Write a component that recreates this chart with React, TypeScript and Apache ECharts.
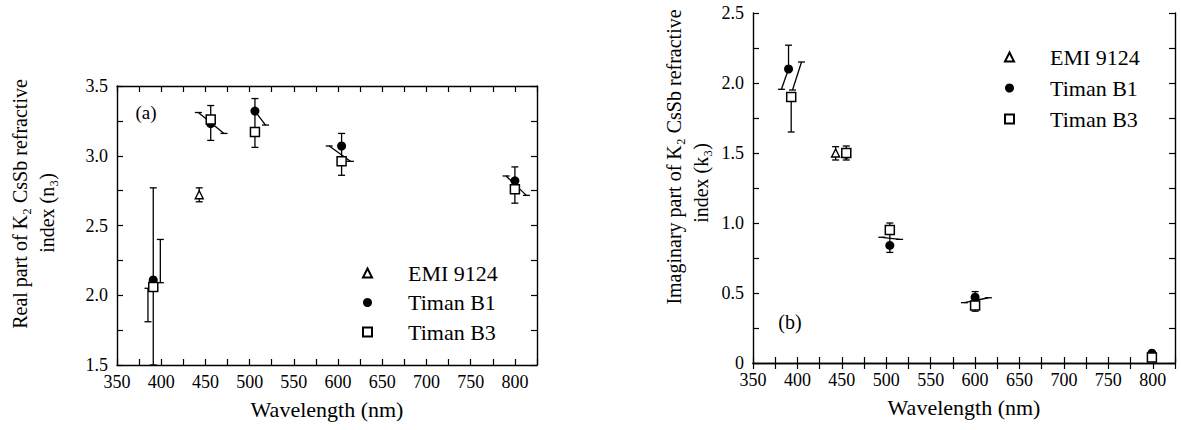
import React, { useEffect, useRef } from "react";
import * as echarts from "echarts";

const seriesNames = ["EMI 9124", "Timan B1", "Timan B3"];

// (a) real part n3
const realEmi = [[443, 2.72]];
const realB1 = [[391, 2.11], [456, 3.23], [506, 3.32], [604, 3.07], [800, 2.82]];
const realB3 = [[391, 2.06], [456, 3.26], [506, 3.17], [604, 2.96], [800, 2.76]];
// error segments [x1, y1, x2, y2]
const realErrSegments = [
  [443, 2.67, 443, 2.77],
  [391, 1.5, 391, 2.77],
  [399, 2.09, 399, 2.4],
  [385, 1.81, 385, 2.05],
  [456, 3.11, 456, 3.36],
  [506, 3.06, 506, 3.41],
  [604, 2.86, 604, 3.16],
  [800, 2.66, 800, 2.92],
  [442, 3.31, 471, 3.16],
  [506, 3.32, 518, 3.22],
  [590, 3.07, 614, 2.96],
  [790, 2.855, 813, 2.716],
];

// (b) imaginary part k3
const imagEmi = [[443, 1.5]];
const imagB1 = [[390, 2.1], [455, 1.49], [504, 0.84], [600, 0.47], [799, 0.07]];
const imagB3 = [[393, 1.9], [455, 1.5], [504, 0.95], [600, 0.41], [799, 0.04]];
const imagErrSegments = [
  [390, 2.1, 390, 2.27],
  [393, 1.65, 393, 1.9],
  [390, 2.1, 382, 1.955],
  [394.5, 1.95, 404.6, 2.15],
  [443, 1.45, 443, 1.545],
  [455, 1.45, 455, 1.55],
  [504, 0.79, 504, 1.0],
  [495, 0.898, 515, 0.883],
  [600, 0.37, 600, 0.51],
  [588, 0.431, 615, 0.466],
];

const xMin = 350;
const xMax = 825;
const xStep = 25;
const realYMin = 1.5;
const realYMax = 3.5;
const imagYMin = 0;
const imagYMax = 2.5;
const yStep = 0.25;

const FONT = "Liberation Serif, DejaVu Serif, serif";
const INK = "#000";

export default function App() {
  const ref = useRef<HTMLDivElement>(null);

  useEffect(() => {
    if (!ref.current) return;
    const chart = echarts.init(ref.current, null, { renderer: "svg" });

    const isMult = (v: number, m: number) => Math.abs(v / m - Math.round(v / m)) < 1e-6;

    const axisLine = { lineStyle: { color: INK, width: 1.4 } };
    const axisTick = { inside: true, length: 6, lineStyle: { color: INK, width: 1.2 } };

    const xAxisBase = (grid: number, pos: "bottom" | "top") => ({
      type: "value",
      gridIndex: grid,
      position: pos,
      min: xMin,
      max: xMax,
      interval: xStep,
      splitLine: { show: false },
      axisLine,
      axisTick,
      axisLabel:
        pos === "bottom"
          ? {
              show: true,
              fontFamily: FONT,
              fontSize: 18,
              color: INK,
              margin: 8,
              formatter: (v: number) => (isMult(v, 50) && v <= 800 ? String(v) : ""),
            }
          : { show: false },
      name: pos === "bottom" ? "Wavelength (nm)" : "",
      nameLocation: "middle",
      nameGap: 33,
      nameTextStyle: { fontFamily: FONT, fontSize: 22, color: INK },
    });

    const yAxisBase = (grid: number, pos: "left" | "right", min: number, max: number, zeroPlain: boolean) => ({
      type: "value",
      gridIndex: grid,
      position: pos,
      min,
      max,
      interval: yStep,
      splitLine: { show: false },
      axisLine,
      axisTick,
      axisLabel:
        pos === "left"
          ? {
              show: true,
              fontFamily: FONT,
              fontSize: 18,
              color: INK,
              margin: 9,
              formatter: (v: number) =>
                isMult(v, 0.5) ? (zeroPlain && Math.abs(v) < 1e-9 ? "0" : v.toFixed(1)) : "",
            }
          : { show: false },
    });

    const segSeries = (xi: number, yi: number, data: number[][]) => ({
      type: "custom",
      xAxisIndex: xi,
      yAxisIndex: yi,
      z: 1,
      silent: true,
      data,
      encode: { x: [0, 2], y: [1, 3] },
      renderItem: (_params: any, api: any) => {
        const a = api.coord([api.value(0), api.value(1)]);
        const b = api.coord([api.value(2), api.value(3)]);
        const c = 3.5;
        const style = { stroke: INK, lineWidth: 1.3 };
        return {
          type: "group",
          children: [
            { type: "line", shape: { x1: a[0], y1: a[1], x2: b[0], y2: b[1] }, style },
            { type: "line", shape: { x1: a[0] - c, y1: a[1], x2: a[0] + c, y2: a[1] }, style },
            { type: "line", shape: { x1: b[0] - c, y1: b[1], x2: b[0] + c, y2: b[1] }, style },
          ],
        };
      },
    });

    const emiStyle = { color: "#fff", borderColor: INK, borderWidth: 1.4, opacity: 1 };
    const b1Style = { color: INK, borderColor: INK, borderWidth: 0, opacity: 1 };
    const b3Style = { color: "#fff", borderColor: INK, borderWidth: 1.5, opacity: 1 };

    const scatter = (name: string, xi: number, yi: number, data: number[][], symbol: string, size: number, itemStyle: any, z: number) => ({
      type: "scatter",
      name,
      xAxisIndex: xi,
      yAxisIndex: yi,
      data,
      symbol,
      symbolSize: size,
      itemStyle,
      z,
      silent: true,
    });

    const legendBase = (left: number, top: number, gap: number) => ({
      orient: "vertical",
      left,
      top,
      padding: 0,
      itemWidth: 9,
      itemHeight: 9,
      itemGap: gap,
      selectedMode: false,
      data: seriesNames,
      textStyle: {
        fontFamily: FONT,
        fontSize: 22,
        color: INK,
        lineHeight: 24,
        padding: [0, 0, 0, 31],
      },
    });

    const titleStyle = (text: string, size: number) => ({
      text,
      fontFamily: FONT,
      fontSize: size,
      fill: INK,
      align: "center",
      verticalAlign: "middle",
    });

    chart.setOption({
      animation: false,
      backgroundColor: "#fff",
      grid: [
        { left: 117, top: 86, width: 420, height: 279 },
        { left: 753, top: 13, width: 422, height: 350 },
      ],
      xAxis: [xAxisBase(0, "bottom"), xAxisBase(0, "top"), xAxisBase(1, "bottom"), xAxisBase(1, "top")],
      yAxis: [
        yAxisBase(0, "left", realYMin, realYMax, false),
        yAxisBase(0, "right", realYMin, realYMax, false),
        yAxisBase(1, "left", imagYMin, imagYMax, true),
        yAxisBase(1, "right", imagYMin, imagYMax, true),
      ],
      legend: [legendBase(362, 261, 5.5), legendBase(1004, 45, 7)],
      series: [
        segSeries(0, 0, realErrSegments),
        scatter(seriesNames[0], 0, 0, realEmi, "triangle", 8, emiStyle, 3),
        scatter(seriesNames[1], 0, 0, realB1, "circle", 9, b1Style, 3),
        scatter(seriesNames[2], 0, 0, realB3, "rect", 9, b3Style, 4),
        segSeries(2, 2, imagErrSegments),
        scatter(seriesNames[0], 2, 2, imagEmi, "triangle", 8, emiStyle, 3),
        scatter(seriesNames[1], 2, 2, imagB1, "circle", 9, b1Style, 3),
        scatter(seriesNames[2], 2, 2, imagB3, "rect", 9, b3Style, 4),
      ],
      graphic: [
        { type: "text", x: 20, y: 204, rotation: Math.PI / 2, style: titleStyle("Real part of K₂ CsSb refractive", 20) },
        { type: "text", x: 47, y: 213, rotation: Math.PI / 2, style: titleStyle("index (n₃)", 20) },
        { type: "text", x: 674, y: 157, rotation: Math.PI / 2, style: titleStyle("Imaginary part of K₂ CsSb refractive", 20) },
        { type: "text", x: 701, y: 183, rotation: Math.PI / 2, style: titleStyle("index (k₃)", 20) },
        { type: "text", x: 146, y: 112, style: titleStyle("(a)", 19) },
        { type: "text", x: 790, y: 322, style: titleStyle("(b)", 20) },
      ],
    });

    return () => chart.dispose();
  }, []);

  return (
    <div
      ref={ref}
      style={{ position: "fixed", left: 0, top: 0, width: 1181, height: 430, background: "#fff" }}
    />
  );
}
